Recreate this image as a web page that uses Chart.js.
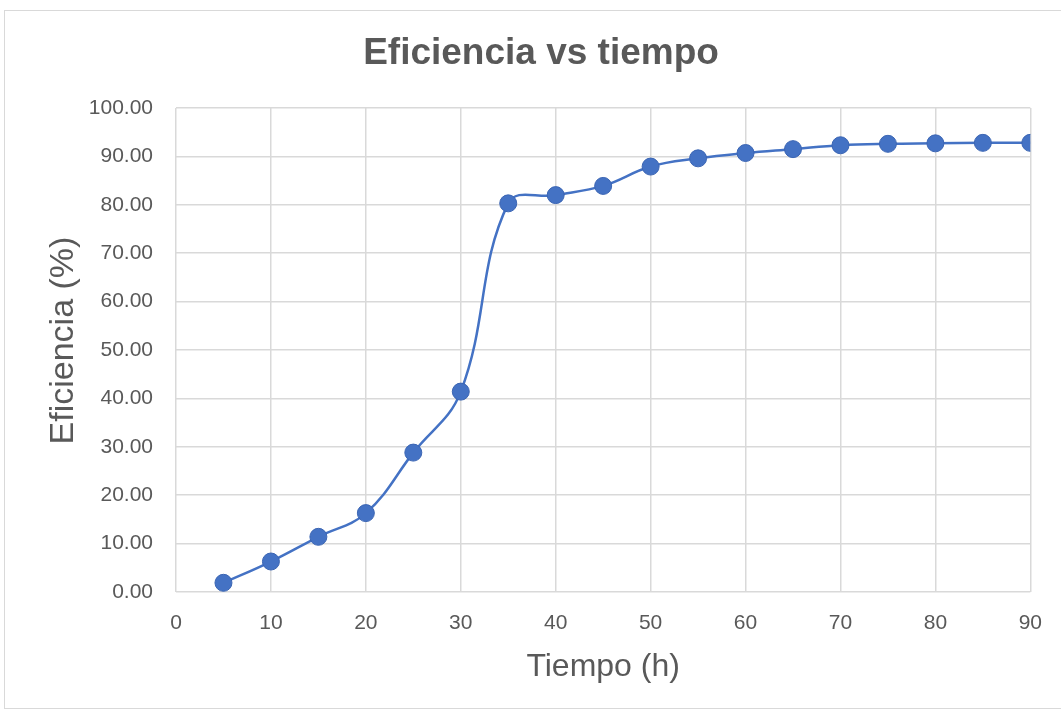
<!DOCTYPE html>
<html>
<head>
<meta charset="utf-8">
<script src="https://cdn.jsdelivr.net/npm/chart.js@4.4.1/dist/chart.umd.min.js"></script>
<style>
  html, body { margin: 0; padding: 0; background: #fff; }
  #frame {
    position: absolute; left: 4px; top: 10px;
    width: 1080px; height: 697px;
    border: 1px solid #d9d9d9;
  }
  #wrap { position: absolute; left: 0; top: 0; width: 1061px; height: 711px; }
</style>
</head>
<body>
<div id="frame"></div>
<div id="wrap"><canvas id="chart1" width="1061" height="711"></canvas></div>
<script>
/* DATA */
const tiempo = [5, 10, 15, 20, 25, 30, 35, 40, 45, 50, 55, 60, 65, 70, 75, 80, 85, 90];
const eficiencia = [1.9, 6.3, 11.4, 16.3, 28.8, 41.4, 80.3, 82.0, 83.9, 87.9, 89.6, 90.7, 91.5, 92.3, 92.6, 92.7, 92.8, 92.8];

const chartTitle = "Eficiencia vs tiempo";
const xTitle = "Tiempo (h)";
const yTitle = "Eficiencia (%)";

/* STYLE */
const gray = "#595959";
const gridColor = "#d9d9d9";
const blue = "#4472C4";
const fontFam = "'Liberation Sans', Arial, sans-serif";

const points = tiempo.map((t, i) => ({ x: t, y: eficiencia[i] }));

const ctx = document.getElementById("chart1").getContext("2d");

new Chart(ctx, {
  type: "scatter",
  data: {
    datasets: [{
      label: "Eficiencia",
      data: points,
      showLine: true,
      borderColor: blue,
      borderWidth: 2.5,
      backgroundColor: blue,
      pointBackgroundColor: blue,
      pointBorderColor: "#3b65b3",
      pointBorderWidth: 1,
      pointRadius: 8.5,
      tension: 0.4
    }]
  },
  options: {
    responsive: false,
    animation: false,
    layout: { padding: { left: 50, right: 29, top: 0, bottom: 0 } },
    plugins: {
      legend: { display: false },
      tooltip: { enabled: false },
      title: {
        display: true,
        text: chartTitle,
        color: gray,
        font: { family: fontFam, size: 37, weight: "bold" },
        padding: { top: 32, bottom: 31.6 }
      }
    },
    scales: {
      x: {
        type: "linear",
        min: 0,
        max: 90,
        ticks: {
          stepSize: 10,
          color: gray,
          padding: 19,
          font: { family: fontFam, size: 21 },
          maxRotation: 0
        },
        grid: { color: gridColor, lineWidth: 1.5, drawTicks: false },
        border: { display: false },
        title: {
          display: true,
          text: xTitle,
          color: gray,
          font: { family: fontFam, size: 32 },
          padding: { top: 0, bottom: 25 }
        },
        afterFit: (s) => { s.height = 119; }
      },
      y: {
        min: 0,
        max: 100,
        ticks: {
          stepSize: 10,
          color: gray,
          padding: 23,
          font: { family: fontFam, size: 21 },
          callback: (v) => v.toFixed(2)
        },
        grid: { color: gridColor, lineWidth: 1.5, drawTicks: false },
        border: { display: false },
        title: {
          display: true,
          // leading spaces nudge the rotated title up, like Excel
          text: "  " + yTitle,
          color: gray,
          font: { family: fontFam, size: 34 },
          padding: { top: -7, bottom: 0 }
        },
        afterFit: (s) => { s.width = 126; }
      }
    }
  }
});
</script>
</body>
</html>
